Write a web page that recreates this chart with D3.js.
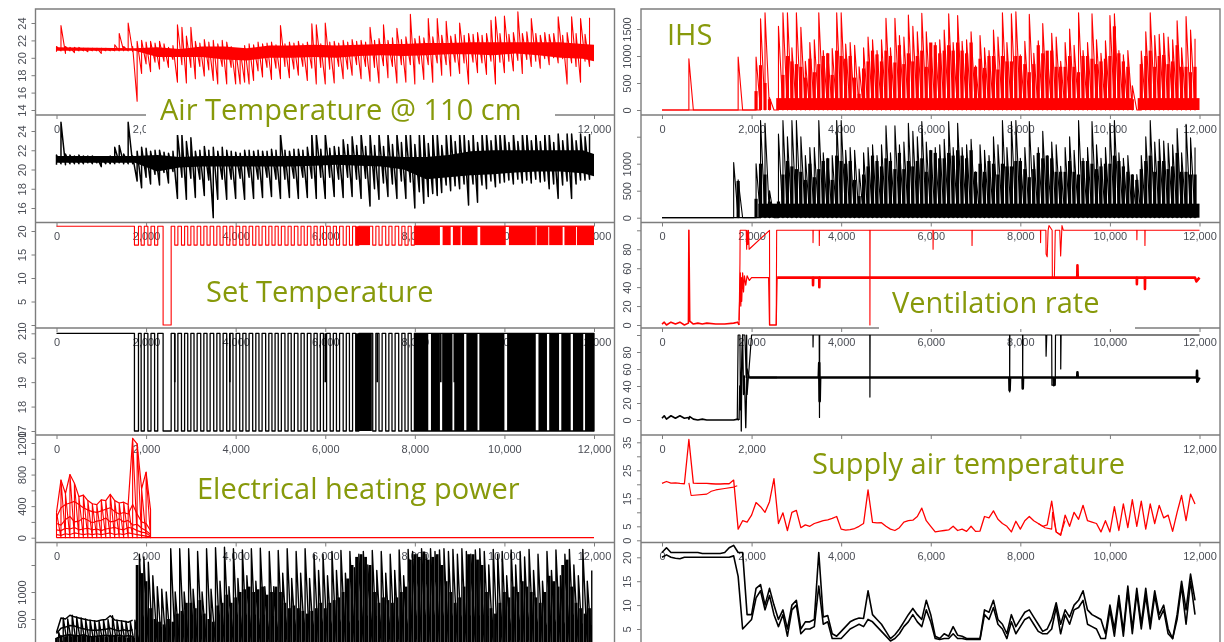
<!DOCTYPE html>
<html><head><meta charset="utf-8">
<style>html,body{margin:0;padding:0;background:#fff;overflow:hidden}svg{display:block;filter:blur(.5px)}</style>
<script src="https://cdn.jsdelivr.net/npm/d3@7"></script></head><body>
<svg id="c" width="1224" height="642"></svg>
<script>
const xTicks=[0,2000,4000,6000,8000,10000,12000];
const binX=d3.range(0,12000,100);
const titles=["Air Temperature @ 110 cm","Set Temperature","Electrical heating power","IHS","Ventilation rate","Supply air temperature"];

const airRedHi=[21.3,23.7,21.3,21.2,21.2,21.2,21.1,21.1,21.1,21.1,21.1,21.1,21,21.5,22.8,21.3,24,21.3,21.9,22,21.8,21.9,21.7,21.9,21.6,21.2,21.4,23.8,23.5,22.5,23.5,21.9,21.7,22.1,21.8,22,21.6,22,21.8,21.3,20.9,21,21.4,21.6,21.5,21.8,21.6,21.7,21.8,21.5,23.7,21.6,21.8,21.7,21.9,21.6,21.8,23.9,23.8,21.6,24,21.8,21.9,21.7,22,21.8,22.1,21.9,22,21.8,23.5,22,22.2,23.8,22,22.3,23.4,22.1,22.4,25,22.2,22.5,22.3,24.5,22.4,24.5,22.6,24.2,22.5,22.7,24,22.6,22.8,22.7,22.9,22.6,22.8,24.3,24.7,22.8,24.8,22.7,22.9,25.3,22.8,23,24.5,22.8,22.6,22.9,22.7,22.8,24.7,22.6,22.9,24.7,22.8,24.5,22.7,24.6];
const airRedLo=[20.7,20.8,20.5,20.8,20.6,20.8,20.8,20.7,20.8,20.8,20.5,20.8,20.8,20.8,20.8,20.8,20.8,20.7,15,18.2,19.3,18.4,19.5,18.7,19.6,18.9,19.8,17.2,19.2,17.1,18.9,17.6,19,17.9,18.6,17.4,17,19,17,18.9,17,17,17.2,17,17.4,18.5,17.8,18.9,17.5,18.8,17.6,19,17.7,18.7,18,19,17.4,18.8,17,18.9,17,18.7,17.1,19,17.6,18.7,18,19.2,17.6,19,17.3,18.9,17.1,19.1,17.7,19,17.1,19.2,17.2,19.2,17,19.3,17.5,19.2,17.2,19.4,18,19.2,17.9,19.5,18.2,19.4,17,19.5,18.3,19.4,18.1,19.6,17,19.5,18.3,19.6,18.5,19.7,18.2,19.8,19,19.6,18.8,19.9,19.2,20,19.4,19.9,17,19.4,19,17.2,19.6,19];
const coreX=[0,1750,2250,2750,3250,3750,4250,4750,5250,5750,6250,6750,7250,7750,8250,8750,9250,9750,10250,10750,11250,11750,12000];
const airRedCoreHi=[21.2,21.1,21.2,21,21.3,21.3,21.1,21.4,21.4,21.5,21.4,21.5,21.6,21.6,21.7,21.7,21.8,21.8,21.8,21.8,21.8,21.6,21.5];
const airRedCoreLo=[20.8,20.8,20.1,20.1,20.1,19.8,19.7,20,20,20.1,20,20.2,20.3,20.2,20.3,20.4,20.4,20.3,20.5,20.3,20,19.9,19.6];
const airBlackHi=[21.5,24.9,21.6,21.5,21.4,21.5,21.4,21.4,21.4,21.3,21.3,21.3,21.4,22.3,22.5,21.6,24.9,21.4,21.9,22.3,22.2,21.9,22,22,21.8,21.7,21.9,23.7,23.6,22.9,23.3,21.9,22,22.4,22,22.3,21.9,22.3,22,21.9,21.8,21.7,22,22,21.9,22,21.9,21.9,22.1,22,23.7,22,21.9,22.1,22.1,22,22.3,23.7,23.7,22.1,23.7,22.2,22.4,22.3,23.1,22.6,23.4,22.5,23.7,22.4,23.7,22.5,23.7,22.4,23.7,22.6,23.7,22.8,23.7,23.7,22.6,23.7,23.7,22.7,23.7,23.7,22.5,23.7,23.7,22.9,23.7,23.7,23,23.7,22.8,23.7,23.7,23,23.7,23.7,23.7,22.8,23.7,22.9,23.7,23.7,23,23.7,22.9,23.7,23.7,22.8,23.7,23,23.7,23.7,23,23.7,23.4,23.7];
const airBlackLo=[20.5,20.6,20.5,20.6,20.6,20.6,20.6,20.7,20.6,20.7,20.3,20.6,20.6,20.6,20.7,20.6,20.6,20.6,18.8,18.1,19.2,18.5,19.5,18.4,19.7,18.6,19.8,17,19.2,16.9,19.1,17.1,19,17.3,18.9,15,16.9,19,16.9,19,17,19.1,16.9,19.2,17,19,17.1,19.2,17.2,19,17,19,17.1,19.1,17,19.2,17.1,19.1,17,19.2,17,19.2,17.2,19,17.1,19.2,17.2,19,17,19.1,16.2,18,16.9,18.6,17.2,18.5,17,18.8,17,18.7,16,17.7,16.5,17.2,17.5,17.3,17.6,18.4,17.8,18.3,18,18.5,16.3,18.5,16.6,18.4,18,18.8,18.2,18.6,18.7,18.9,18.5,19,18.6,18.9,18.6,19,18.7,18.8,18,18.5,17,18.4,18.8,17,18.5,18.9,18.9,19];
const airBlackCoreHi=[21.4,21.4,21.5,21.3,21.4,21.4,21.4,21.4,21.4,21.4,21.5,21.5,21.4,21.3,21.3,21.5,21.9,22,22,22,22,22,21.6];
const airBlackCoreLo=[20.7,20.7,19.8,20.2,20.3,20.3,20.3,20.3,20.3,20.4,20.5,20.4,20.3,20,19,19.2,19.4,19.5,19.7,19.8,19.8,19.6,19.3];

const setStarts=[1740,1890,2040,2190,2380,2640,2790,2930,3070,3220,3360,3510,3650,3800,3940,4090,4230,4380,4520,4670,4810,4950,5100,5240,5390,5530,5680,5820,5960,6110,6250,6400,6540,6680,7060,7200,7350,7490,7640,7780,7920];
const setEnds=[1830,1960,2110,2260,2560,2710,2860,3000,3140,3290,3430,3580,3720,3870,4010,4160,4300,4450,4590,4740,4880,5020,5170,5310,5460,5600,5750,5890,6030,6180,6320,6470,6610,6750,7130,7270,7420,7560,7710,7850,7990];
const setLows=[17,17,17,17,0,17,17,17,17,17,17,17,17,17,17,17,17,17,17,17,17,17,17,17,17,17,17,17,17,17,17,17,17,17,17,17,17,17,17,17,17];
const setSolidRedX0=[6680,8000,8620,8850,9050,9460,10100,10720,11000,11340,11620];
const setSolidRedX1=[7000,8560,8800,9020,9400,10030,10700,10980,11300,11600,12000];
const setSolidBlackX0=[6680,8000,8360,8610,8880,9150,9440,10060,10760,11000,11270,11530,11800];
const setSolidBlackX1=[7040,8300,8560,8840,9100,9400,10000,10700,10950,11220,11480,11760,12000];
const setDipsBlack=[2640,3870,6000,7160,8580,8880];

const heatX=d3.range(0,2200,100);
const heatRedHi=[320,730,560,800,690,520,540,470,430,420,480,470,550,470,440,450,420,1260,1190,620,830,350];
const heatRedT2=[260,380,420,440,460,420,380,350,330,320,340,360,380,330,300,320,300,420,300,200,180,90];
const heatRedT3=[180,160,230,270,200,210,250,220,190,210,220,250,200,210,240,200,220,160,170,120,90,40];
const heatRedT4=[100,90,120,110,130,100,110,120,100,110,90,110,120,130,110,100,130,120,90,70,60,20];
const heatRedT5=[40,30,50,40,60,50,40,50,40,50,40,50,60,40,50,40,60,50,40,30,20,10];
const heatEarlyX=d3.range(0,1800,100);
const heatBlackT2=[230,330,350,380,370,340,320,300,290,290,300,310,330,300,280,300,280,300];
const heatBlackT3=[150,170,200,210,190,190,210,180,170,180,190,200,180,190,200,180,190,180];
const heatBlackHi=[250,520,500,570,540,520,500,480,470,460,480,490,560,480,470,460,440,480,1700,1650,1550,1300,1100,1050,1000,1800,1000,1800,1000,1800,1050,1750,1000,1800,1050,1820,1200,1830,1100,1800,1250,1780,1300,1800,1200,1810,1100,1750,1100,1770,1350,1800,1250,1750,1350,1800,1250,1700,1400,1700,1300,1750,1400,1770,1350,1750,1450,1700,1750,1500,1770,1400,1750,1350,1700,1400,1780,1300,1790,1750,1700,1800,1700,1800,1750,1780,1800,1750,1790,1700,1800,1750,1700,1780,1800,1750,1500,1790,1700,1750,1300,1780,1500,1750,1650,1790,1400,1700,1200,1750,1400,1780,1300,1700,1790,1500,1300,1790,1200,1400];
const heatBlackMid=[150,200,180,220,210,190,200,180,170,180,190,180,210,190,180,170,160,180,1500,1350,1200,700,500,450,400,500,450,600,650,800,800,700,850,600,500,450,750,800,950,800,900,1000,1050,1100,1000,1050,1100,950,1000,1100,1000,800,700,750,700,650,600,650,700,800,700,800,850,900,1000,1250,1500,1650,1700,1650,1500,1000,800,900,850,800,900,1000,1100,1600,1700,1650,1750,1600,1650,1700,1500,1200,1000,800,900,1100,1700,1700,1600,1500,1000,700,600,800,1000,900,1100,1000,1200,1100,1000,900,800,1000,1300,1200,1100,1500,1600,1100,800,700,600,700];

const ihsRedHi=[0,0,0,0,0,0,950,0,0,0,0,0,0,0,0,0,0,980,0,0,0,980,1690,1800,230,0,1550,1800,1800,1150,1800,1530,900,1250,1300,1800,1100,1050,1140,1800,1800,1220,1250,1200,800,1150,1350,1300,1100,1300,1700,1150,1700,1380,1350,1760,1550,1450,1790,1450,1200,1250,1300,1480,1780,1250,1750,1270,1300,1450,820,1380,1150,1100,1480,1350,1800,1250,1780,1820,1020,1270,1770,1050,1280,1600,1070,1420,1350,900,1250,1500,1200,1800,1100,1250,1780,1300,1050,1280,1750,1780,1100,1020,1100,450,0,1090,1450,1800,1380,1400,1420,1350,1300,1650,1150,1730,1480,1320];
const ihsRedMid=[0,0,0,0,0,0,0,0,0,0,0,0,0,0,0,0,0,0,0,0,0,350,830,500,200,0,120,650,1000,900,850,800,600,950,700,850,1000,1050,650,1100,1000,950,1000,600,300,770,900,1100,1030,900,1100,1000,880,1200,850,1050,900,1000,1100,800,1250,1200,1050,1100,1200,1100,1250,1100,1050,1250,800,950,780,1000,1000,750,1000,900,900,1000,1000,850,700,850,1200,1050,1100,1100,800,800,800,1000,800,700,1000,1000,950,850,900,950,1000,1550,1050,900,800,200,0,850,1000,1100,800,1000,1020,850,900,1200,800,800,700,800];
const ihsBlackHi=[0,0,0,0,0,0,0,0,0,0,0,0,0,0,0,0,1020,700,0,0,0,1000,1800,1750,500,0,1550,1800,1500,1800,1800,1500,1150,1300,1300,1800,1200,1100,1150,1800,1800,1250,1300,1250,900,1200,1300,1350,1150,1350,1700,1200,1700,1350,1400,1750,1600,1500,1780,1400,1250,1300,1350,1450,1780,1300,1750,1300,1350,1450,850,1350,1250,1150,1500,1350,1800,1300,1780,1800,1100,1300,1780,1150,1300,1600,1150,1400,1350,950,1300,1500,1250,1800,1100,1300,1780,1350,1100,1300,1750,1800,1200,1100,1150,800,800,1150,1500,1800,1400,1450,1420,1380,1350,1650,1200,1730,1480,1300];
const ihsBlackMid=[0,0,0,0,0,0,0,0,0,0,0,0,0,0,0,0,0,680,0,0,0,350,1000,800,300,250,300,800,1050,950,900,850,700,1000,750,900,1050,1100,700,1150,1050,1000,1050,700,400,800,950,1150,1050,950,1100,1050,900,1200,900,1050,950,1050,1100,850,1250,1200,1100,1100,1200,1150,1250,1150,1100,1250,850,1000,850,1050,1000,800,1000,950,950,1050,1050,900,750,900,1200,1100,1150,1100,850,850,850,1050,850,800,1050,1050,1000,900,950,1000,1000,1150,1050,950,850,800,700,900,1050,1150,850,1050,1050,900,950,1200,850,850,800,800];
const ihsBaseRedX0=[2550,10620], ihsBaseRedX1=[10480,12000], ihsBaseRedV=[220,220];
const ihsBaseBlackX0=[2150], ihsBaseBlackX1=[12000], ihsBaseBlackV=[260];

const ventLowX=[0,50,100,200,300,400,500,590,600,620,700,800,900,1000,1200,1400,1600,1690,1720];
const ventLowRedY=[1,3,0,3,1,3,0,2,100,4,1,2,1,2,1,1,2,3,0];
const ventRiseX=[1720,1735,1750,1760,1770,1780,1800,1820,1840,1870,1900,1950,2000,2380,2400,2550,2570];
const ventRiseRedY=[5,30,55,20,50,25,55,35,52,42,52,47,50,50,0,0,50];
const ventTopRedX=[1720,1740,1745,1880,1890,1900,1915,1930,1945,2400,2405,2550,2560,3370,3372,3376,3510,3512,3516,4640,4642,4646,6050,6052,6056,6920,6922,6926,8450,8452,8456,8570,8575,8600,8620,8640,8710,8715,8760,8780,8790,8880,8900,8930,8960,10600,10602,10606,10780,10782,10786,12000];
const ventTopRedY=[0,65,100,100,80,100,85,100,80,100,0,0,100,100,87,100,100,84,100,100,0,100,100,80,100,100,84,100,100,87,100,100,75,72,100,105,100,50,50,100,100,100,73,105,100,100,90,100,100,84,100,100];
const ventMainX=[2570,3370,3372,3376,3510,3512,3516,4700,9270,9275,9282,10600,10602,10606,10780,10782,10786,11900,11930,12000];
const ventMainRedY=[50,50,42,50,50,40,50,50,50,63,50,50,43,50,50,38,50,50,46,50];
const ventLowBlackY=[2,5,1,5,2,5,2,3,1,4,1,0,1,0,0,0,0,1,0];
const ventRiseBlackY=[0,40,12,50,-13,55,100,30,52,-9,60,50,50,50,50,50,50];
const ventTopBlackX=[1680,1700,1740,1750,1800,1850,1880,1890,1900,2000,3370,3372,3376,3510,3516,3520,4640,4642,4646,7760,7762,7766,8050,8052,8056,8570,8575,8590,8700,8705,8780,8785,8900,8902,8910,12000];
const ventTopBlackY=[0,100,100,20,100,100,50,100,30,100,100,86,100,100,3,100,100,27,100,100,33,100,100,37,100,100,75,100,100,41,41,100,100,60,100,100];
const ventMainBlackX=[1950,3500,3510,3520,3530,7755,7760,7770,8050,8054,8060,8740,8750,8770,9270,9275,9282,11940,11945,11950,12000];
const ventMainBlackY=[50,50,67,22,50,50,35,50,50,37,50,50,41,50,50,56,50,50,58,45,50];

const supplyRedA=[20.3,21,20.4,20.5,20.3,20.2,36,20.4,20.3,20.3,20.3,20.2,20.1,20.1,20.2,20.2,21.5,4,7,6.5,9,13.5,12,10,13.8,22,6,9.8,3.5,10,10.7,4.5,5.5,5,6,6.5,7,7.3,7.8,8.5,4,3.6,3.8,4.2,5,6,18,6.4,6.2,6.3,5,4,3.5,4.5,6.5,7,7.2,8.5,11.5,7,5,3,3.3,3.5,3.7,5,3.5,4,3.2,5,3.2,3.3,8.5,8,10.5,7.5,6,5,3,6.8,4,7,8.5,7,6,5,5.5,14,3,1.8,9,5,10,7.5,12.5,7,6.5,6,3,7,3,12,3.5,13,4.5,14.5,5,14,4,13,6,12.5,8,9,3.2,10,16,7,16.5,13];
const supplyRedBX=[600,650,1000,1100,1200,1400,1600,1680,8400,8550,8700,8720,8800,8900,9000];
const supplyRedBY=[20.5,16,16.5,17.5,18,18.5,19,19.5,6,4.5,4,10,3,2,7];
const supplyBlackA=[21,22,21,21,21,21,21,21,21,20.8,20.8,20.8,20.8,20.8,21,22,22.5,21,21,8,8,13.5,14.3,10,13.5,10,7,9,5,10,11,5,6.5,6.5,7,21,7.5,7.8,4,3.5,4.5,5.5,6.5,7,7.3,7.2,13,8,7,6,4.5,3,3.8,5,6.5,8,9.3,8,7,11,8,3.5,3,4,3.5,5.5,3.7,3.5,3,3,3,3,9,8.5,11,7,6,4,8,5.5,7,8.5,9,7.5,6,4.5,5,7,10.5,6,9,7.5,10,11,13,9,8,7.5,7,4,10,5,12,4.5,14,5,13.5,6,13.5,6,13,8,10,5,3,8,15,9,16.5,11];
const supplyBlackB=[20,20.5,20,19.8,19.7,20,20,20,20,20,20,20,20,20,20,20,20.3,16,5,6,7,11.5,13,9,12,8,5.5,8,3.5,9,10,4,5,5,5.5,14,6,6.5,3,3,3,4,5,5.5,6,5.5,7,6.5,5.5,4.5,3.5,2.5,3,4,5.5,6.5,8,6.5,5.5,9,6.5,3,2.8,3,3,4,3,3,2.8,2.8,2.8,2.8,8,7,9.5,6,5,3,6.5,4,5.5,7,7.5,6,4.5,4,4,5,9.5,4,8,6,9,9.5,11,6,5.5,5,3,3,9,3.5,11,3.5,13,4,12.5,5,12,5,12,7,9,4,3,7,14,6,15,8];

const RED="#ff0000",BLK="#000000",FRAME="#7d7d7d",TXT="#4a4d55",OLIVE="#87990a";
const svg=d3.select("#c");
const defs=svg.append("defs");
const tops=[9,115,222.5,328,435,542.5,642];
const xL=d3.scaleLinear().domain([0,12000]).range([56.5,594]);
const xR=d3.scaleLinear().domain([0,12000]).range([662,1199.5]);
const pts=(xs,ys)=>xs.map((x,i)=>[x,ys[i]]);
const comb=(xs,hi,lo)=>xs.flatMap((x,i)=>[[x,lo[i]],[x,hi[i]]]);

function panel(side,row,dom,rng,ticks,labels,draw){
  const x=side?xR:xL, fl=side?641:35.5, fr=side?1220:614.5;
  const y=d3.scaleLinear().domain(dom).range(rng);
  const id=`cp${side}${row}`;
  defs.append("clipPath").attr("id",id).append("rect").attr("x",fl).attr("y",tops[row]).attr("width",fr-fl).attr("height",tops[row+1]-tops[row]);
  const g=svg.append("g").attr("clip-path",`url(#${id})`);
  const line=d3.line().x(d=>x(d[0])).y(d=>y(d[1]));
  draw({g,x,y,line,
    path:(data,color,w,extra)=>g.append("path").attr("d",line(data)).attr("fill","none").attr("stroke",color).attr("stroke-width",w).attr("stroke-linejoin","round").attr("stroke-dasharray",extra||null),
    band:(xs,hi,lo,color)=>g.append("path").attr("d",d3.area().x((d,i)=>x(xs[i])).y0((d,i)=>y(lo[i])).y1((d,i)=>y(hi[i]))(xs)).attr("fill",color)});
  const ya=svg.append("g").attr("transform",`translate(${fl},0)`)
    .call(d3.axisLeft(y).tickValues(ticks).tickSize(4).tickFormat(d=>labels.includes(d)?String(d):""));
  ya.select(".domain").remove();
  ya.selectAll("line").attr("stroke",FRAME);
  ya.selectAll("text").attr("transform","rotate(-90)").attr("x",0).attr("y",-10).attr("dy",0).attr("text-anchor","middle")
    .attr("fill",TXT).style("font","11px 'Liberation Sans'");
  if(row<5){
    const xa=svg.append("g").attr("transform",`translate(0,${tops[row+1]})`)
      .call(d3.axisBottom(x).tickValues(xTicks).tickSize(4).tickPadding(6));
    xa.select(".domain").remove();
    xa.selectAll("line").attr("stroke",FRAME);
    xa.selectAll("text").attr("fill",TXT).style("font","11px 'Liberation Sans'");
    svg.append("line").attr("x1",fl).attr("x2",fr).attr("y1",tops[row+1]).attr("y2",tops[row+1]).attr("stroke",FRAME).attr("stroke-width",1.4);
  }
}
function setLine(lows,floor){
  const p=[[0,21]];
  setStarts.forEach((s,i)=>{const l=Math.max(lows[i],floor);p.push([s,21],[s,l],[setEnds[i],l],[setEnds[i],21]);});
  return p;
}
function solids(ctx,x0,x1,color){
  ctx.g.selectAll(null).data(x0).join("rect").attr("x",d=>ctx.x(d)).attr("width",(d,i)=>ctx.x(x1[i])-ctx.x(d))
    .attr("y",ctx.y(21)).attr("height",ctx.y(17)-ctx.y(21)).attr("fill",color);
}
function ihs(ctx,hi,mid,color,bx0,bx1,bv){
  ctx.path(comb(binX,hi,binX.map(()=>0)),color,1.1);
  ctx.g.selectAll(null).data(binX).join("rect").attr("x",d=>ctx.x(d)-1.6).attr("width",3.2)
    .attr("y",(d,i)=>ctx.y(mid[i])).attr("height",(d,i)=>ctx.y(0)-ctx.y(mid[i])).attr("fill",color);
  ctx.g.selectAll(null).data(bx0).join("rect").attr("x",d=>ctx.x(d)).attr("width",(d,i)=>ctx.x(bx1[i])-ctx.x(d))
    .attr("y",(d,i)=>ctx.y(bv[i])).attr("height",(d,i)=>ctx.y(0)-ctx.y(bv[i])).attr("fill",color);
  ctx.path([[0,0],[2200,0]],color,1.2);
}

// left column
panel(0,0,[14,24],[110,23],[14,16,18,20,22,24],[14,16,18,20,22,24],c=>{
  c.band(coreX,airRedCoreHi,airRedCoreLo,RED);
  c.path(comb(binX,airRedHi,airRedLo),RED,1.1);
});
panel(0,1,[16,24],[208,131],[16,18,20,22,24],[16,18,20,22,24],c=>{
  c.band(coreX,airBlackCoreHi,airBlackCoreLo,BLK);
  c.path(comb(binX,airBlackHi,airBlackLo),BLK,1.5);
});
panel(0,2,[0,20],[325,231],[0,5,10,15,20],[0,5,10,15,20],c=>{
  solids(c,setSolidRedX0,setSolidRedX1,RED);
  c.path(setLine(setLows,0).concat([[12000,21]]),RED,1.1);
  c.path(setLine(setLows,0).filter(d=>d[0]>7990).concat([[8000,21],[12000,21]]),RED,1.1);
});
panel(0,3,[17,21],[431,333.3],[17,18,19,20,21],[17,18,19,20,21],c=>{
  solids(c,setSolidBlackX0,setSolidBlackX1,BLK);
  c.path(setLine(setLows,17).concat([[8000,21],[8000,17],[12000,17],[12000,21],[8000,21]]),BLK,1.3);
  setDipsBlack.forEach(d=>c.path([[d,21],[d,19]],BLK,1.6));
});
panel(0,4,[0,1200],[537.7,443],[0,200,400,600,800,1000,1200],[0,400,800,1200],c=>{
  c.path(comb(heatX,heatRedHi,heatX.map(()=>0)),RED,1.1);
  [heatRedHi,heatRedT2,heatRedT3,heatRedT4,heatRedT5].forEach(t=>c.path(pts(heatX,t),RED,1.2));
  c.path([[0,0],[12000,0]],RED,1.3);
});
panel(0,5,[500,1000],[619,592],[500,1000,1500],[500,1000],c=>{
  c.g.selectAll(null).data(binX).join("rect").attr("x",d=>c.x(d)-1.4).attr("width",2.8)
    .attr("y",(d,i)=>c.y(heatBlackMid[i])).attr("height",100).attr("fill",BLK);
  c.path(comb(binX.map(d=>d+50),heatBlackHi,binX.map(()=>0)),BLK,1.4);
  [heatBlackHi.slice(0,18),heatBlackT2,heatBlackT3].forEach(t=>c.path(pts(heatEarlyX,t),BLK,1.5));
});

// right column
panel(1,0,[0,1500],[110,29],[0,500,1000,1500],[0,500,1000,1500],c=>ihs(c,ihsRedHi,ihsRedMid,RED,ihsBaseRedX0,ihsBaseRedX1,ihsBaseRedV));
panel(1,1,[0,1500],[217.7,136.7],[0,500,1000,1500],[0,500,1000],c=>ihs(c,ihsBlackHi,ihsBlackMid,BLK,ihsBaseBlackX0,ihsBaseBlackX1,ihsBaseBlackV));
panel(1,2,[0,100],[325,230.3],[0,20,40,60,80,100],[0,20,40,60,80],c=>{
  c.path(pts(ventLowX,ventLowRedY),RED,1.6);
  c.path(pts(ventRiseX,ventRiseRedY),RED,1.2);
  c.path(pts(ventTopRedX,ventTopRedY),RED,1.1);
  c.path(pts(ventMainX,ventMainRedY),RED,2.6);
});
panel(1,3,[0,100],[420,335],[0,20,40,60,80,100],[0,20,40,60,80],c=>{
  c.path(pts(ventLowX,ventLowBlackY),BLK,1.6);
  c.path(pts(ventRiseX,ventRiseBlackY),BLK,1.3);
  c.path(pts(ventTopBlackX,ventTopBlackY),BLK,1.2,null);
  c.path(pts(ventMainBlackX,ventMainBlackY),BLK,2.6);
});
panel(1,4,[0,35],[540.3,442.3],[0,5,10,15,20,25,30,35],[0,5,15,25,35],c=>{
  c.path(pts(binX,supplyRedA),RED,1.3);
  c.path(pts(supplyRedBX.slice(0,8),supplyRedBY.slice(0,8)),RED,1.1);
  c.path(pts(supplyRedBX.slice(8),supplyRedBY.slice(8)),RED,1.1);
});
panel(1,5,[5,20],[629,557.3],[5,10,15,20],[5,10,15,20],c=>{
  c.path(pts(binX,supplyBlackA),BLK,1.6);
  c.path(pts(binX,supplyBlackB),BLK,1.6);
});

// frames
svg.append("path").attr("d","M35.5,642V9H614.5V642M641,642V9H1220V642").attr("fill","none").attr("stroke",FRAME).attr("stroke-width",1.4);

// title boxes and titles
const boxes=[[146,97,409,38],[879,289,256,40],[800,441,360,40]];
svg.selectAll(null).data(boxes).join("rect").attr("x",d=>d[0]).attr("y",d=>d[1]).attr("width",d=>d[2]).attr("height",d=>d[3]).attr("fill","#fff");
const titleX=[160,206,197,667,892,812], titleY=[120,302,499,45,313,474], titleS=[29,29,29,29,29,29];
svg.selectAll(null).data(titles).join("text").attr("x",(d,i)=>titleX[i]).attr("y",(d,i)=>titleY[i]).attr("fill",OLIVE)
  .style("font-family","'Open Sans'").style("font-size",(d,i)=>titleS[i]+"px").text(d=>d);
</script></body></html>
